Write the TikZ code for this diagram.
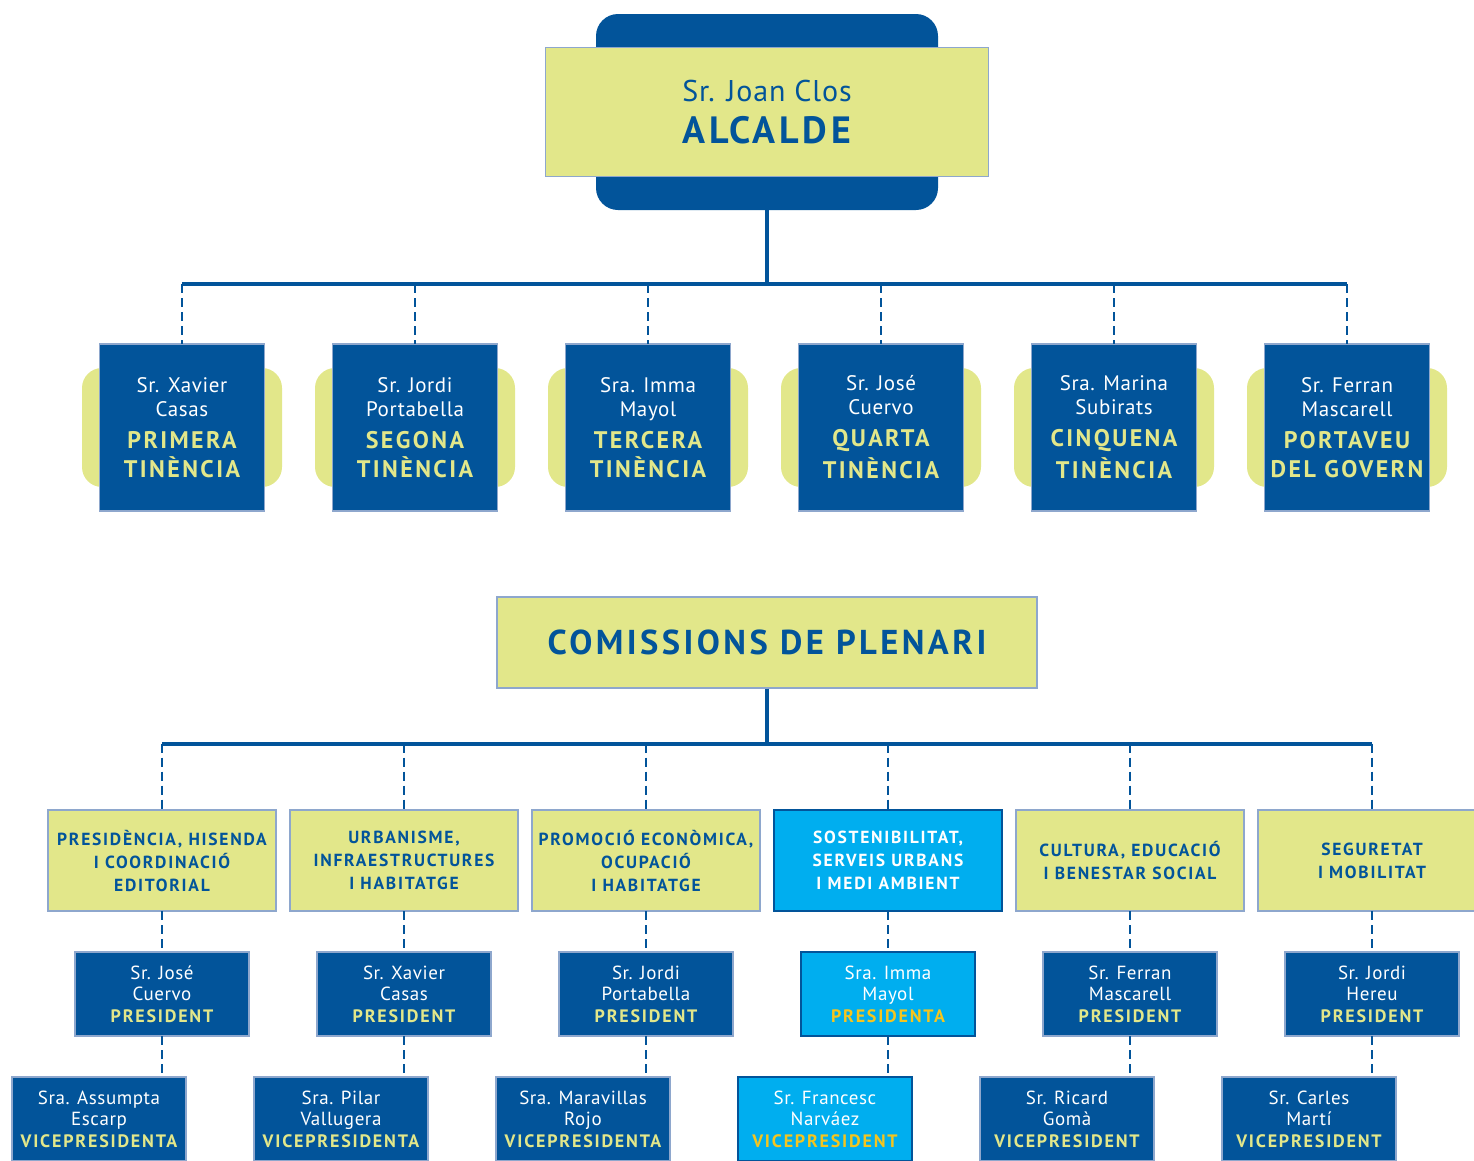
\documentclass[tikz,border=0pt]{standalone}
\usepackage{fontspec}
\setmainfont{PT Sans}[LetterSpace=3]
\newfontfamily\spacedfont[LetterSpace=10]{PT Sans}
\usetikzlibrary{positioning,backgrounds}
\definecolor{bcnblue}{HTML}{02549A}
\definecolor{bcnlime}{HTML}{E2E78A}
\definecolor{bcncyan}{HTML}{00AEEF}
\definecolor{bcnedge}{HTML}{8EA7CD}
\definecolor{bcngold}{HTML}{F5C51E}
\newcommand{\roletext}[1]{{\spacedfont\bfseries\fontsize{18}{22}\selectfont\color{rolecol}#1}}
\newcommand{\bigrole}[1]{{\spacedfont\bfseries\fontsize{24}{29}\selectfont\color{rolecol}#1}}

\begin{document}
\begin{tikzpicture}[x=1pt, y=-1pt,
    mayorback/.style={rectangle, rounded corners=22pt, fill=bcnblue, minimum width=342pt, minimum height=196pt},
    mayorbox/.style={rectangle, draw=bcnedge, line width=1.2pt, fill=bcnlime, minimum width=443pt, minimum height=129pt, text=bcnblue, align=center},
    tinbox/.style={rectangle, draw=bcnedge, line width=1.2pt, outer sep=0pt, fill=bcnblue, minimum width=165pt, minimum height=167pt, text=white, align=center, font=\fontsize{21}{24}\selectfont, execute at begin node={\colorlet{rolecol}{bcnlime}}},
    tinback/.style={rectangle, rounded corners=20pt, fill=bcnlime, minimum width=200pt, minimum height=119pt},
    plenbox/.style={rectangle, draw=bcnedge, line width=1.2pt, fill=bcnlime, minimum width=540pt, minimum height=91pt, text=bcnblue, font=\spacedfont\bfseries\fontsize{34.5}{40}\selectfont},
    combox/.style={rectangle, draw=bcnedge, line width=1.2pt, outer sep=0pt, fill=bcnlime, minimum width=228pt, minimum height=101pt, text=bcnblue, align=center, inner sep=1pt, font=\spacedfont\bfseries\fontsize{17.5}{23}\selectfont},
    comhot/.style={combox, draw=bcnblue, line width=2.5pt, fill=bcncyan, text=white},
    person/.style={rectangle, draw=bcnedge, line width=1.2pt, outer sep=0pt, fill=bcnblue, minimum width=174pt, minimum height=84pt, inner sep=1pt, text=white, align=center, font=\fontsize{19}{21.5}\selectfont, execute at begin node={\colorlet{rolecol}{bcnlime}}},
    personhot/.style={person, draw=bcnblue, line width=2.5pt, fill=bcncyan, execute at begin node={\colorlet{rolecol}{bcngold}}},
    trunk/.style={draw=bcnblue, line width=4pt},
    drop/.style={draw=bcnblue, line width=2.5pt, dash pattern=on 9pt off 5pt},
]
    \clip (0,0) rectangle (1474,1160);

    \node[mayorback] (mayorbg) at (767,112) {};
    \node[mayorbox] (mayor) at (mayorbg) {{\fontsize{30}{32}\selectfont Sr. Joan Clos}\\[14pt]{\spacedfont\bfseries\fontsize{38}{40}\selectfont ALCALDE}};

    \node[tinbox] (ten1) at (182,427.5) {Sr. Xavier\\Casas\\[8pt]\bigrole{PRIMERA}\\[5pt]\bigrole{TINÈNCIA}};
    \node[tinbox, right=68pt of ten1] (ten2) {Sr. Jordi\\Portabella\\[8pt]\bigrole{SEGONA}\\[5pt]\bigrole{TINÈNCIA}};
    \node[tinbox, right=68pt of ten2] (ten3) {Sra. Imma\\Mayol\\[8pt]\bigrole{TERCERA}\\[5pt]\bigrole{TINÈNCIA}};
    \node[tinbox, right=68pt of ten3] (ten4) {Sr. José\\Cuervo\\[8pt]\bigrole{QUARTA}\\[5pt]\bigrole{TINÈNCIA}};
    \node[tinbox, right=68pt of ten4] (ten5) {Sra. Marina\\Subirats\\[8pt]\bigrole{CINQUENA}\\[5pt]\bigrole{TINÈNCIA}};
    \node[tinbox, right=68pt of ten5] (ten6) {Sr. Ferran\\Mascarell\\[8pt]\bigrole{PORTAVEU}\\[5pt]\bigrole{DEL GOVERN}};
    \begin{scope}[on background layer]
        \foreach \n in {1,...,6} \node[tinback] at (ten\n) {};
    \end{scope}

    \coordinate (tinjoin) at ([yshift=-74pt]mayorbg.south);
    \draw[trunk] (mayorbg.south) -- (tinjoin);
    \draw[trunk] (ten1.north |- tinjoin) -- (ten6.north |- tinjoin);
    \foreach \n in {1,...,6} \draw[drop] (ten\n.north |- tinjoin) -- (ten\n.north);

    \node[plenbox] (plen) at (767,642.5) {COMISSIONS DE PLENARI};

    \node[combox] (com1) at (162,860.5) {PRESIDÈNCIA, HISENDA\\I COORDINACIÓ\\EDITORIAL};
    \node[combox, right=14pt of com1] (com2) {URBANISME,\\INFRAESTRUCTURES\\I HABITATGE};
    \node[combox, right=14pt of com2] (com3) {PROMOCIÓ ECONÒMICA,\\OCUPACIÓ\\I HABITATGE};
    \node[comhot, right=14pt of com3] (com4) {SOSTENIBILITAT,\\SERVEIS URBANS\\I MEDI AMBIENT};
    \node[combox, right=14pt of com4] (com5) {CULTURA, EDUCACIÓ\\I BENESTAR SOCIAL};
    \node[combox, right=14pt of com5] (com6) {SEGURETAT\\I MOBILITAT};

    \node[person, below=41pt of com1] (pres1) {Sr. José\\Cuervo\\\roletext{PRESIDENT}};
    \node[person, below=41pt of com2] (pres2) {Sr. Xavier\\Casas\\\roletext{PRESIDENT}};
    \node[person, below=41pt of com3] (pres3) {Sr. Jordi\\Portabella\\\roletext{PRESIDENT}};
    \node[personhot, below=41pt of com4] (pres4) {Sra. Imma\\Mayol\\\roletext{PRESIDENTA}};
    \node[person, below=41pt of com5] (pres5) {Sr. Ferran\\Mascarell\\\roletext{PRESIDENT}};
    \node[person, below=41pt of com6] (pres6) {Sr. Jordi\\Hereu\\\roletext{PRESIDENT}};

    \node[person, below=41pt of pres1, xshift=-63pt] (vice1) {Sra. Assumpta\\Escarp\\\roletext{VICEPRESIDENTA}};
    \node[person, below=41pt of pres2, xshift=-63pt] (vice2) {Sra. Pilar\\Vallugera\\\roletext{VICEPRESIDENTA}};
    \node[person, below=41pt of pres3, xshift=-63pt] (vice3) {Sra. Maravillas\\Rojo\\\roletext{VICEPRESIDENTA}};
    \node[personhot, below=41pt of pres4, xshift=-63pt] (vice4) {Sr. Francesc\\Narváez\\\roletext{VICEPRESIDENT}};
    \node[person, below=41pt of pres5, xshift=-63pt] (vice5) {Sr. Ricard\\Gomà\\\roletext{VICEPRESIDENT}};
    \node[person, below=41pt of pres6, xshift=-63pt] (vice6) {Sr. Carles\\Martí\\\roletext{VICEPRESIDENT}};

    \coordinate (comjoin) at ([yshift=-55pt]plen.south);
    \draw[trunk] (plen.south) -- (comjoin);
    \draw[trunk] (com1.north |- comjoin) -- (com6.north |- comjoin);
    \foreach \n in {1,...,6} {
        \draw[drop] (com\n.north |- comjoin) -- (com\n.north);
        \draw[drop] (com\n.south) -- (pres\n.north);
        \draw[drop] (pres\n.south) -- (pres\n.south |- vice\n.north);
    }
\end{tikzpicture}
\end{document}
